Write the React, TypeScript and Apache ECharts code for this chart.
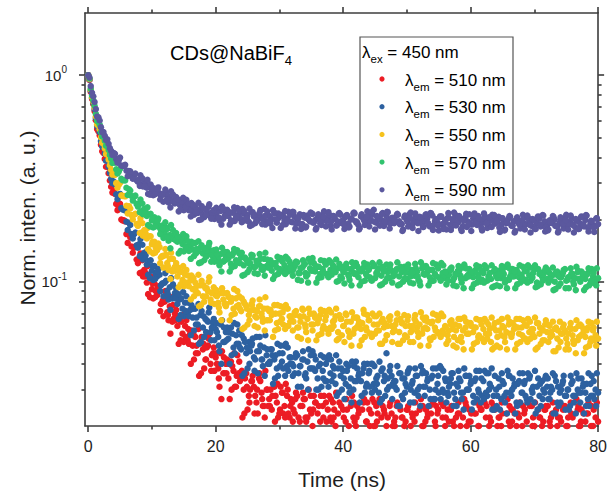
import React, { useEffect, useRef } from 'react';
import * as echarts from 'echarts';

// Decay traces, values in units of 1e-4 of normalized intensity.
// "A" channels at t = i*DT, "B" channels at t = (i + 0.5)*DT,
// "C" channels at t = (i + C_START + 0.25)*DT.
const DT = 0.4;
const UNIT = 1e-4;
const C_START = 20;

const em510A = [
  10000, 8300, 7250, 6050, 5350, 4600, 4200, 3600, 3350, 2880,
  2750, 2380, 2300, 2000, 1980, 1700, 1700, 1480, 1460, 1280,
  1270, 1110, 1140, 990, 1060, 920, 980, 860, 900, 790,
  800, 710, 760, 640, 700, 610, 650, 560, 610, 520,
  560, 490, 540, 450, 510, 470, 420, 490, 400, 450,
  430, 380, 450, 360, 400, 340, 410, 370, 310, 360,
  340, 300, 360, 280, 330, 310, 260, 340, 290, 250,
  300, 270, 240, 310, 260, 230, 290, 250, 280, 220,
  260, 230, 280, 210, 250, 270, 220, 240, 200, 260,
  230, 210, 250, 190, 240, 220, 260, 200, 230, 180,
  240, 210, 190, 250, 220, 200, 230, 180, 260, 210,
  190, 230, 200, 250, 180, 220, 240, 200, 170, 230,
  210, 250, 190, 220, 200, 240, 180, 230, 210, 190,
  240, 200, 170, 220, 250, 190, 210, 230, 180, 220,
  200, 240, 190, 210, 170, 230, 200, 220, 260, 190,
  210, 180, 230, 200, 240, 190, 220, 170, 210, 250,
  190, 220, 200, 180, 230, 210, 240, 190, 200, 220,
  180, 230, 210, 190, 250, 200, 170, 220, 200, 240,
  190, 210, 230, 180, 200, 220, 190, 250, 200, 180,
  220, 190, 240, 200, 170, 210, 230, 190, 200, 220,
  210,
];
const em510B = [
  9480, 7680, 6700, 5480, 5110, 4280, 3930, 3600, 3090, 2700,
  2660, 2220, 2380, 1980, 1960, 1540, 1640, 1380, 1480, 1230,
  1370, 1060, 1100, 870, 1060, 830, 900, 950, 780, 680,
  820, 650, 840, 660, 730, 500, 640, 510, 650, 500,
  580, 420, 490, 350, 540, 380, 480, 560, 440, 370,
  400, 310, 460, 360, 420, 270, 390, 310, 440, 330,
  220, 340, 240, 300, 350, 280, 230, 330, 250, 370,
  250, 300, 190, 280, 220, 310, 230, 320, 230, 270,
  240, 290, 220, 190, 270, 210, 300, 230, 280, 180,
  250, 190, 280, 210, 280, 210, 240, 170, 260, 190,
  170, 240, 190, 280, 210, 250, 160, 240, 180, 260,
  200, 270, 200, 230, 160, 250, 180, 220, 260, 200,
  220, 160, 240, 170, 210, 250, 200, 160, 230, 180,
  270, 200, 240, 160, 230, 180, 250, 190, 260, 190,
  170, 210, 250, 200, 160, 230, 180, 270, 200, 240,
  160, 230, 180, 250, 190, 260, 190, 220, 160, 240,
  200, 160, 230, 180, 270, 200, 240, 160, 230, 180,
  250, 190, 260, 190, 220, 160, 240, 170, 210, 250,
  190, 220, 160, 240, 170, 210, 250, 200, 160, 230,
  180, 270, 200, 240, 160, 230, 180, 250, 190, 260,
];
const em510C = [
  1100, 1270, 1060, 1190, 840, 980, 840, 930, 720, 810,
  900, 690, 560, 770, 650, 670, 520, 690, 540, 590,
  400, 560, 450, 590, 360, 500, 420, 530, 370, 480,
  450, 340, 270, 430, 360, 400, 300, 450, 350, 410,
  370, 230, 310, 260, 330, 230, 300, 360, 270, 220,
  300, 250, 280, 210, 320, 240, 290, 220, 300, 250,
  210, 270, 190, 250, 290, 220, 180, 280, 240, 260,
  190, 280, 220, 260, 190, 270, 220, 290, 180, 250,
  220, 270, 200, 160, 260, 220, 240, 180, 270, 210,
  240, 180, 260, 210, 270, 170, 230, 190, 250, 170,
  200, 260, 160, 220, 190, 240, 170, 220, 260, 190,
  160, 250, 210, 230, 170, 260, 200, 240, 180, 250,
  220, 190, 240, 170, 220, 260, 190, 160, 250, 210,
  230, 170, 260, 200, 240, 180, 250, 200, 260, 160,
  170, 220, 260, 190, 160, 250, 210, 230, 170, 260,
  200, 240, 180, 250, 200, 260, 160, 220, 190, 240,
  250, 200, 260, 160, 220, 190, 240, 170, 220, 260,
  190, 160, 250, 210, 230, 170, 260, 200, 240, 180,
];

const em530A = [
  10000, 8400, 7350, 6200, 5550, 4800, 4450, 3850, 3600, 3150,
  3050, 2650, 2600, 2270, 2230, 1950, 1930, 1700, 1700, 1500,
  1520, 1340, 1380, 1210, 1260, 1130, 1190, 1060, 1080, 980,
  990, 900, 940, 830, 880, 780, 820, 740, 790, 700,
  730, 670, 740, 620, 690, 600, 660, 640, 570, 630,
  590, 540, 620, 510, 570, 530, 600, 480, 550, 500,
  470, 530, 450, 510, 490, 430, 540, 460, 420, 480,
  440, 400, 470, 420, 380, 450, 410, 490, 390, 430,
  400, 360, 440, 390, 420, 350, 410, 380, 460, 370,
  340, 400, 370, 330, 420, 360, 390, 320, 380, 350,
  370, 320, 390, 340, 300, 410, 350, 330, 380, 310,
  360, 400, 320, 340, 290, 370, 330, 450, 310, 350,
  330, 300, 360, 280, 340, 310, 380, 320, 290, 350,
  310, 360, 280, 330, 300, 350, 270, 320, 390, 300,
  340, 290, 320, 360, 270, 310, 330, 290, 350, 300,
  320, 280, 340, 300, 260, 330, 290, 360, 310, 280,
  300, 340, 270, 320, 290, 350, 280, 310, 260, 330,
  290, 320, 270, 340, 300, 260, 310, 280, 330, 290,
  310, 270, 300, 350, 260, 290, 320, 280, 300, 250,
  330, 280, 300, 260, 310, 290, 270, 320, 280, 300,
  290,
];
const em530B = [
  9530, 7770, 6850, 5680, 5310, 4520, 4180, 3860, 3370, 3000,
  2960, 2510, 2660, 2240, 2210, 1780, 1880, 1620, 1730, 1460,
  1610, 1280, 1340, 1080, 1270, 1020, 1090, 1150, 960, 850,
  1010, 820, 1040, 840, 930, 660, 830, 680, 850, 680,
  770, 580, 670, 500, 720, 540, 650, 750, 600, 520,
  570, 460, 650, 510, 600, 400, 560, 450, 620, 480,
  350, 510, 380, 460, 530, 420, 360, 490, 390, 550,
  400, 470, 320, 440, 350, 490, 380, 500, 370, 430,
  390, 450, 360, 310, 420, 340, 470, 380, 440, 300,
  390, 310, 430, 330, 440, 330, 380, 280, 410, 300,
  270, 370, 290, 410, 330, 380, 260, 360, 290, 400,
  310, 400, 300, 350, 260, 380, 280, 340, 390, 320,
  330, 250, 360, 270, 320, 370, 300, 260, 350, 280,
  390, 310, 360, 250, 340, 270, 380, 290, 380, 290,
  260, 310, 360, 290, 250, 340, 270, 380, 300, 350,
  240, 330, 270, 370, 280, 370, 280, 320, 240, 350,
  280, 240, 330, 260, 370, 290, 340, 230, 320, 260,
  360, 280, 360, 270, 310, 230, 340, 250, 300, 350,
  270, 310, 230, 330, 250, 300, 350, 280, 240, 320,
  260, 360, 290, 340, 230, 320, 250, 350, 270, 360,
];
const em530C = [
  1330, 1510, 1290, 1420, 1040, 1190, 1030, 1120, 900, 980,
  1100, 870, 730, 970, 830, 870, 690, 890, 720, 790,
  550, 740, 620, 780, 510, 680, 570, 710, 520, 660,
  630, 490, 400, 600, 520, 570, 440, 630, 500, 580,
  550, 360, 480, 400, 500, 370, 460, 540, 420, 350,
  470, 410, 440, 340, 500, 390, 450, 350, 480, 400,
  350, 430, 310, 390, 460, 360, 300, 440, 380, 420,
  300, 440, 340, 400, 310, 420, 350, 440, 290, 380,
  340, 400, 310, 260, 390, 330, 360, 280, 400, 320,
  370, 290, 390, 320, 410, 270, 350, 300, 370, 270,
  310, 390, 250, 340, 290, 360, 260, 330, 380, 300,
  250, 370, 310, 340, 270, 380, 300, 350, 270, 370,
  330, 280, 340, 250, 320, 370, 290, 240, 350, 300,
  330, 260, 370, 290, 340, 270, 360, 300, 380, 240,
  250, 310, 360, 280, 230, 350, 300, 320, 250, 360,
  290, 330, 260, 350, 290, 370, 240, 320, 270, 340,
  340, 290, 360, 230, 310, 260, 330, 240, 300, 350,
  280, 230, 340, 290, 320, 250, 360, 280, 330, 250,
];

const em550A = [
  10000, 8500, 7450, 6300, 5700, 5000, 4650, 4150, 3900, 3480,
  3350, 3000, 2950, 2620, 2600, 2330, 2320, 2100, 2110, 1900,
  1920, 1730, 1780, 1620, 1660, 1520, 1560, 1420, 1470, 1330,
  1340, 1230, 1290, 1120, 1180, 1060, 1110, 1020, 1080, 960,
  1010, 920, 990, 880, 960, 850, 930, 900, 820, 890,
  860, 790, 880, 820, 760, 850, 800, 740, 830, 770,
  720, 800, 760, 690, 780, 730, 670, 760, 700, 740,
  650, 720, 690, 770, 630, 700, 660, 740, 610, 680,
  650, 710, 600, 680, 740, 620, 660, 700, 580, 670,
  630, 690, 590, 650, 720, 600, 640, 680, 570, 660,
  610, 700, 580, 640, 560, 670, 620, 590, 730, 600,
  650, 560, 620, 680, 580, 640, 600, 550, 670, 610,
  590, 650, 570, 630, 690, 540, 610, 580, 660, 600,
  620, 560, 650, 590, 530, 640, 600, 570, 680, 580,
  610, 550, 640, 590, 620, 520, 660, 580, 600, 560,
  630, 570, 600, 540, 650, 590, 560, 620, 510, 600,
  580, 640, 550, 600, 570, 620, 540, 590, 660, 560,
  600, 530, 610, 570, 590, 540, 630, 560, 590, 520,
  570, 610, 550, 590, 530, 640, 560, 580, 500, 600,
  550, 590, 520, 620, 560, 540, 600, 510, 580, 550,
  530,
];
const em550B = [
  9580, 7820, 6960, 5770, 5470, 4710, 4410, 4120, 3660, 3300,
  3290, 2850, 3010, 2600, 2590, 2140, 2260, 2000, 2130, 1860,
  2030, 1670, 1720, 1440, 1660, 1370, 1460, 1530, 1310, 1170,
  1350, 1140, 1380, 1150, 1230, 940, 1120, 950, 1140, 950,
  1070, 850, 950, 760, 1010, 800, 930, 1050, 880, 780,
  850, 710, 930, 780, 880, 650, 830, 700, 900, 740,
  590, 780, 620, 720, 810, 680, 600, 760, 640, 840,
  650, 730, 540, 700, 590, 760, 620, 770, 610, 680,
  640, 720, 600, 530, 680, 570, 740, 620, 700, 520,
  660, 560, 720, 590, 730, 590, 650, 520, 690, 550,
  510, 640, 540, 710, 590, 670, 490, 630, 540, 690,
  560, 700, 560, 620, 500, 660, 520, 610, 680, 570,
  620, 500, 660, 520, 610, 680, 570, 510, 640, 540,
  710, 590, 670, 490, 630, 540, 690, 560, 700, 560,
  500, 580, 650, 540, 480, 610, 510, 670, 560, 630,
  470, 600, 510, 650, 530, 660, 530, 590, 470, 630,
  540, 480, 610, 510, 670, 560, 630, 470, 600, 510,
  650, 530, 660, 530, 590, 470, 630, 500, 580, 650,
  510, 570, 460, 600, 480, 560, 620, 530, 470, 590,
  500, 650, 540, 610, 450, 580, 490, 630, 520, 640,
];
const em550C = [
  1720, 1920, 1670, 1820, 1400, 1560, 1380, 1490, 1230, 1330,
  1440, 1190, 1030, 1290, 1130, 1170, 970, 1190, 990, 1070,
  820, 1040, 900, 1080, 770, 960, 850, 1000, 790, 940,
  910, 750, 650, 880, 780, 840, 690, 920, 760, 850,
  830, 600, 740, 650, 770, 610, 720, 820, 670, 580,
  740, 650, 700, 580, 770, 640, 710, 590, 740, 640,
  580, 690, 540, 640, 730, 600, 520, 700, 620, 670,
  550, 730, 610, 680, 560, 710, 610, 740, 530, 660,
  610, 690, 570, 490, 670, 600, 640, 520, 700, 580,
  650, 540, 680, 580, 700, 500, 630, 550, 650, 510,
  580, 700, 500, 630, 550, 650, 510, 610, 690, 570,
  490, 670, 600, 640, 520, 700, 580, 650, 540, 680,
  600, 520, 620, 490, 580, 660, 540, 470, 640, 560,
  610, 500, 660, 550, 620, 510, 640, 560, 670, 480,
  490, 580, 660, 540, 470, 640, 560, 610, 500, 660,
  550, 620, 510, 640, 560, 670, 480, 600, 520, 620,
  620, 540, 640, 460, 580, 510, 600, 470, 560, 630,
  520, 450, 610, 550, 590, 480, 640, 530, 600, 490,
];

const em570A = [
  10000, 8600, 7550, 6500, 5950, 5300, 5050, 4550, 4350, 3950,
  3820, 3500, 3420, 3150, 3100, 2850, 2800, 2600, 2580, 2380,
  2380, 2200, 2250, 2080, 2120, 1980, 2050, 1900, 1830, 1870,
  1720, 1800, 1680, 1620, 1700, 1560, 1630, 1520, 1580, 1480,
  1500, 1430, 1540, 1400, 1460, 1370, 1450, 1350, 1410, 1320,
  1380, 1290, 1360, 1250, 1330, 1300, 1220, 1380, 1270, 1240,
  1310, 1200, 1280, 1230, 1350, 1180, 1260, 1210, 1150, 1290,
  1190, 1240, 1130, 1210, 1170, 1280, 1120, 1200, 1160, 1250,
  1130, 1190, 1240, 1100, 1170, 1220, 1080, 1160, 1300, 1120,
  1180, 1090, 1150, 1230, 1070, 1140, 1200, 1110, 1160, 1060,
  1130, 1190, 1080, 1150, 1110, 1230, 1050, 1120, 1170, 1090,
  1140, 1020, 1190, 1100, 1160, 1070, 1120, 1210, 1040, 1130,
  1090, 1150, 1060, 1110, 1180, 1030, 1100, 1140, 1070, 1120,
  1000, 1160, 1080, 1110, 1050, 1140, 1090, 1190, 1040, 1100,
  1120, 1060, 1150, 1010, 1090, 1130, 1070, 1170, 1040, 1080,
  1110, 1050, 1140, 1080, 1000, 1100, 1160, 1060, 1030, 1120,
  1070, 1130, 1040, 1090, 1180, 1020, 1100, 1060, 1140, 1050,
  1080, 1010, 1120, 1070, 1040, 1150, 990, 1090, 1060, 1110,
  1030, 1100, 1070, 1000, 1120, 1050, 1080, 1150, 1020, 1060,
  1090, 1040, 1110, 1000, 1070, 1030, 1100, 980, 1060, 1020,
  1040,
];
const em570B = [
  9630, 7970, 7110, 6010, 5770, 5050, 4810, 4580, 4110, 3760,
  3770, 3340, 3520, 3100, 3090, 2630, 2760, 2470, 2610, 2310,
  2500, 2120, 2180, 1880, 2130, 1830, 1940, 2020, 1780, 1630,
  1830, 1580, 1880, 1610, 1720, 1370, 1610, 1400, 1660, 1410,
  1560, 1330, 1440, 1230, 1500, 1270, 1410, 1540, 1350, 1250,
  1360, 1200, 1460, 1270, 1390, 1120, 1340, 1190, 1420, 1230,
  1070, 1310, 1110, 1230, 1340, 1180, 1090, 1290, 1140, 1380,
  1170, 1270, 1030, 1230, 1090, 1300, 1130, 1320, 1120, 1210,
  1150, 1250, 1100, 1010, 1200, 1060, 1290, 1130, 1230, 990,
  1180, 1050, 1260, 1090, 1270, 1080, 1170, 1000, 1220, 1040,
  980, 1160, 1020, 1240, 1090, 1190, 960, 1140, 1010, 1210,
  1050, 1230, 1040, 1130, 960, 1180, 1000, 1110, 1210, 1060,
  1130, 960, 1180, 1000, 1110, 1210, 1060, 980, 1160, 1020,
  1240, 1090, 1190, 960, 1140, 1010, 1210, 1050, 1230, 1040,
  970, 1080, 1170, 1040, 950, 1130, 990, 1210, 1060, 1150,
  930, 1110, 990, 1180, 1020, 1200, 1010, 1100, 940, 1150,
  1040, 950, 1130, 990, 1210, 1060, 1150, 930, 1110, 990,
  1180, 1020, 1200, 1010, 1100, 940, 1150, 970, 1080, 1170,
  990, 1070, 910, 1110, 950, 1050, 1140, 1010, 930, 1090,
  970, 1180, 1030, 1120, 910, 1080, 960, 1150, 990, 1160,
];
const em570C = [
  2170, 2390, 2130, 2290, 1850, 2030, 1850, 1980, 1700, 1810,
  1940, 1640, 1450, 1780, 1590, 1650, 1410, 1700, 1470, 1570,
  1290, 1530, 1370, 1570, 1240, 1450, 1320, 1490, 1250, 1420,
  1430, 1240, 1120, 1400, 1280, 1350, 1170, 1440, 1260, 1370,
  1380, 1080, 1270, 1150, 1310, 1100, 1240, 1360, 1180, 1070,
  1280, 1170, 1230, 1070, 1320, 1150, 1250, 1090, 1290, 1160,
  1070, 1210, 1020, 1160, 1270, 1100, 990, 1240, 1130, 1190,
  1040, 1270, 1110, 1210, 1050, 1240, 1120, 1280, 1010, 1180,
  1110, 1220, 1060, 960, 1190, 1090, 1150, 1000, 1230, 1070,
  1160, 1010, 1200, 1080, 1240, 970, 1140, 1040, 1170, 990,
  1080, 1240, 970, 1140, 1040, 1170, 990, 1110, 1220, 1060,
  960, 1190, 1090, 1150, 1000, 1230, 1070, 1160, 1010, 1200,
  1110, 1010, 1140, 960, 1080, 1190, 1030, 930, 1160, 1060,
  1120, 970, 1200, 1040, 1130, 990, 1170, 1050, 1200, 950,
  960, 1080, 1190, 1030, 930, 1160, 1060, 1120, 970, 1200,
  1040, 1130, 990, 1170, 1050, 1200, 950, 1110, 1010, 1140,
  1140, 1020, 1170, 920, 1070, 980, 1110, 930, 1050, 1160,
  1000, 910, 1130, 1030, 1090, 940, 1160, 1010, 1100, 960,
];

const em590A = [
  10000, 8850, 7900, 6850, 6250, 5600, 5300, 4850, 4650, 4300,
  4200, 3920, 3880, 3650, 3640, 3450, 3430, 3250, 3280, 3100,
  3120, 2950, 3010, 2850, 2900, 2760, 2820, 2700, 2680, 2640,
  2650, 2520, 2580, 2460, 2390, 2480, 2350, 2300, 2380, 2250,
  2290, 2180, 2300, 2150, 2220, 2100, 2240, 2130, 2080, 2190,
  2120, 2050, 2200, 2020, 2150, 2080, 1980, 2170, 2060, 2110,
  2000, 2140, 2040, 1950, 2180, 2070, 1990, 2100, 2030, 2250,
  1960, 2080, 2010, 2140, 1930, 2050, 2110, 1970, 2020, 2160,
  1940, 2060, 2000, 2120, 1900, 2040, 2090, 1960, 2130, 1990,
  2050, 1920, 2100, 1980, 2030, 1870, 2080, 2000, 1950, 2110,
  1990, 2060, 1910, 2020, 2140, 1960, 1880, 2070, 2010, 1940,
  2090, 1980, 2230, 1930, 2040, 1990, 1860, 2080, 1970, 2020,
  1920, 2100, 1960, 1900, 2050, 1990, 2120, 1870, 2000, 1950,
  2060, 1910, 1980, 2030, 1850, 2090, 1960, 1940, 2070, 1900,
  1990, 2040, 1880, 1970, 2110, 1930, 2000, 1860, 2050, 1950,
  1900, 2020, 1960, 2080, 1890, 1970, 1930, 2040, 1850, 1990,
  1940, 2060, 1880, 1980, 1920, 2030, 1870, 1960, 2010, 1900,
  1950, 1890, 2040, 1930, 1860, 1990, 1910, 2020, 1880, 1960,
  1870, 1980, 1920, 2000, 1850, 1940, 1900, 2030, 1860, 1950,
  1890, 1840, 1970, 1910, 1870, 1990, 1830, 1920, 1880, 1850,
  1900,
];
const em590B = [
  9740, 8220, 7410, 6300, 6030, 5300, 5090, 4890, 4430, 4110,
  4160, 3770, 3990, 3630, 3680, 3240, 3420, 3150, 3340, 3050,
  3270, 2890, 2980, 2660, 2950, 2620, 2750, 2860, 2610, 2440,
  2670, 2420, 2740, 2460, 2570, 2190, 2440, 2220, 2490, 2220,
  2400, 2110, 2240, 1990, 2320, 2050, 2210, 2370, 2150, 2010,
  2180, 1980, 2310, 2080, 2230, 1890, 2160, 1970, 2270, 2030,
  2250, 1980, 2100, 1860, 2170, 1920, 2070, 2220, 2010, 1890,
  2100, 1910, 2220, 2000, 2140, 1820, 2080, 1900, 2180, 1950,
  2170, 1910, 2030, 1800, 2100, 1850, 2000, 2140, 1940, 1820,
  2070, 1880, 2190, 1970, 2110, 1790, 2050, 1870, 2150, 1920,
  1800, 2100, 1850, 2000, 2140, 1940, 1820, 2070, 1880, 2190,
  1970, 2110, 1790, 2050, 1870, 2150, 1920, 2170, 1910, 2030,
  1970, 2110, 1910, 1790, 2040, 1850, 2160, 1940, 2080, 1760,
  2020, 1840, 2120, 1890, 2140, 1880, 2000, 1770, 2070, 1820,
  1790, 2040, 1850, 2160, 1940, 2080, 1760, 2020, 1840, 2120,
  1890, 2140, 1880, 2000, 1770, 2070, 1820, 1970, 2110, 1910,
  1960, 1740, 2030, 1790, 1930, 2060, 1870, 1760, 2000, 1810,
  2110, 1900, 2040, 1730, 1980, 1800, 2070, 1850, 2090, 1840,
  1790, 1930, 2060, 1870, 1760, 2000, 1810, 2110, 1900, 2040,
  1730, 1980, 1800, 2070, 1850, 2090, 1840, 1960, 1740, 2030,
];
const em590C = [
  2910, 3170, 2900, 3110, 2640, 2850, 2650, 2820, 2500, 2650,
  2790, 2490, 2290, 2640, 2440, 2500, 2240, 2550, 2290, 2390,
  2070, 2350, 2170, 2410, 2000, 2260, 2100, 2310, 2020, 2220,
  2280, 2040, 1890, 2240, 2090, 2170, 1950, 2290, 2060, 2200,
  1940, 2200, 2030, 2260, 1880, 2110, 1970, 2160, 1900, 2080,
  2190, 1960, 1820, 2150, 2010, 2090, 1880, 2200, 1980, 2110,
  2180, 1810, 2040, 1900, 2090, 1830, 2010, 2160, 1930, 1790,
  2120, 1980, 2060, 1850, 2170, 1950, 2080, 1870, 2130, 1960,
  1900, 2090, 1830, 2010, 2160, 1930, 1790, 2120, 1980, 2060,
  1850, 2170, 1950, 2080, 1870, 2130, 1960, 2180, 1810, 2040,
  1980, 2130, 1900, 1760, 2090, 1950, 2030, 1820, 2140, 1920,
  2050, 1840, 2100, 1930, 2150, 1780, 2010, 1870, 2060, 1800,
  1930, 2150, 1780, 2010, 1870, 2060, 1800, 1980, 2130, 1900,
  1760, 2090, 1950, 2030, 1820, 2140, 1920, 2050, 1840, 2100,
  1970, 1830, 2020, 1770, 1940, 2080, 1860, 1730, 2050, 1910,
  1990, 1790, 2090, 1880, 2010, 1800, 2050, 1890, 2100, 1750,
  1770, 1940, 2080, 1860, 1730, 2050, 1910, 1990, 1790, 2090,
  1880, 2010, 1800, 2050, 1890, 2100, 1750, 1970, 1830, 2020,
];

const emissionLabels = ['510', '530', '550', '570', '590'];
const emissionA = [em510A, em530A, em550A, em570A, em590A];
const emissionB = [em510B, em530B, em550B, em570B, em590B];
const emissionC = [em510C, em530C, em550C, em570C, em590C];
const colors = ['#ec1c24', '#2d61a0', '#f6c21c', '#31c36e', '#5b589e'];
const excitationLabel = '450';
const sampleLabel = 'CDs@NaBiF';
const sampleSub = '4';

const xMajorTicks = [0, 20, 40, 60, 80];
const xMinorTicks = [10, 30, 50, 70];
const yMajorTicks = [0.1, 1];
const yMinorTicks = [0.03, 0.04, 0.05, 0.06, 0.07, 0.08, 0.09, 0.2, 0.3, 0.4, 0.5, 0.6, 0.7, 0.8, 0.9];

const FONT = '"Liberation Sans", Arial, sans-serif';
const AXIS_COLOR = '#3c3c3c';
const TEXT_COLOR = '#1e1e1e';

export default function App() {
  const ref = useRef<HTMLDivElement>(null);

  useEffect(() => {
    if (!ref.current) return;
    const chart = echarts.init(ref.current, undefined, { renderer: 'svg' });

    const lineStyle = { color: AXIS_COLOR, width: 1.6 };
    const xBase = { type: 'value', min: -0.5, max: 80, splitLine: { show: false }, gridIndex: 0 };
    const yBase = { type: 'log', logBase: 10, min: 0.02, max: 2, splitLine: { show: false }, gridIndex: 0 };

    const xAxis = [
      {
        ...xBase, position: 'bottom',
        axisLine: { show: true, onZero: false, lineStyle },
        axisTick: { show: true, customValues: xMajorTicks, length: 6, inside: false, lineStyle },
        axisLabel: { show: true, customValues: xMajorTicks, margin: 12, fontSize: 16, fontFamily: FONT, color: TEXT_COLOR },
      },
      {
        ...xBase, position: 'top',
        axisLine: { show: true, onZero: false, lineStyle },
        axisTick: { show: true, customValues: xMajorTicks, length: 6, lineStyle },
        axisLabel: { show: false },
      },
      {
        ...xBase, position: 'bottom',
        axisLine: { show: false, onZero: false },
        axisTick: { show: true, customValues: xMinorTicks, length: 3.5, lineStyle },
        axisLabel: { show: false },
      },
      {
        ...xBase, position: 'top',
        axisLine: { show: false, onZero: false },
        axisTick: { show: true, customValues: xMinorTicks, length: 3.5, lineStyle },
        axisLabel: { show: false },
      },
    ];

    const yAxis = [
      {
        ...yBase, position: 'left',
        axisLine: { show: true, onZero: false, lineStyle },
        axisTick: { show: true, customValues: yMajorTicks, length: 6, lineStyle },
        axisLabel: {
          show: true, customValues: yMajorTicks, margin: 18, fontFamily: FONT, color: TEXT_COLOR,
          formatter: (v: number) => `{b|10}{p|${Math.round(Math.log10(v))}}`,
          rich: {
            b: { fontSize: 15, fontFamily: FONT, color: TEXT_COLOR },
            p: { fontSize: 10, fontFamily: FONT, color: TEXT_COLOR, padding: [0, 0, 11, 0] },
          },
        },
      },
      {
        ...yBase, position: 'right',
        axisLine: { show: true, onZero: false, lineStyle },
        axisTick: { show: true, customValues: yMajorTicks, length: 6, lineStyle },
        axisLabel: { show: false },
      },
      {
        ...yBase, position: 'left',
        axisLine: { show: false, onZero: false },
        axisTick: { show: true, customValues: yMinorTicks, length: 3.5, lineStyle },
        axisLabel: { show: false },
      },
      {
        ...yBase, position: 'right',
        axisLine: { show: false, onZero: false },
        axisTick: { show: true, customValues: yMinorTicks, length: 3.5, lineStyle },
        axisLabel: { show: false },
      },
    ];

    const series = emissionLabels.map((lab, k) => ({
      type: 'scatter',
      name: lab,
      xAxisIndex: 0,
      yAxisIndex: 0,
      symbol: 'circle',
      symbolSize: 6.5,
      clip: true,
      itemStyle: { color: colors[k], opacity: 1 },
      data: [
        ...emissionA[k].map((v, i) => [i * DT, v * UNIT]),
        ...emissionB[k].map((v, i) => [(i + 0.5) * DT, v * UNIT]),
        ...emissionC[k].map((v, j) => [(j + C_START + 0.25) * DT, v * UNIT]),
      ],
      z: 2 + k,
    }));

    const legendLeft = 360;
    const legendTop = 37;
    const rowGap = 27.7;
    const richSub = (size: number) => ({
      l: { fontSize: size, fontFamily: FONT, color: TEXT_COLOR },
      s: { fontSize: 11.5, fontFamily: FONT, color: TEXT_COLOR, padding: [13, 0, 0, 0] },
      m: { fontSize: size, fontFamily: FONT, color: TEXT_COLOR },
    });

    const legendItems: any[] = [
      {
        type: 'rect',
        shape: { x: legendLeft, y: legendTop, width: 153, height: 167 },
        style: { fill: '#ffffff', stroke: '#555555', lineWidth: 1.2 },
        z: 10,
      },
      {
        type: 'text', x: legendLeft + 2, y: legendTop + 15, z: 11,
        style: {
          text: `{l|λ}{s|ex}{m| = ${excitationLabel} nm}`,
          rich: richSub(17), verticalAlign: 'middle', align: 'left',
        },
      },
    ];
    emissionLabels.forEach((lab, k) => {
      const cy = legendTop + 42 + k * rowGap;
      legendItems.push({
        type: 'circle', shape: { cx: legendLeft + 22, cy, r: 2.6 },
        style: { fill: colors[k] }, z: 11,
      });
      legendItems.push({
        type: 'text', x: legendLeft + 45, y: cy + 1, z: 11,
        style: {
          text: `{l|λ}{s|em}{m| = ${lab} nm}`,
          rich: richSub(17), verticalAlign: 'middle', align: 'left',
        },
      });
    });

    const option: any = {
      animation: false,
      backgroundColor: '#ffffff',
      grid: { left: 85, right: 11, top: 13, bottom: 67, containLabel: false },
      xAxis,
      yAxis,
      series,
      graphic: [
        {
          type: 'text', x: 170, y: 53, z: 11,
          style: {
            text: `{m|${sampleLabel}}{s|${sampleSub}}`,
            rich: {
              m: { fontSize: 20, fontFamily: FONT, color: TEXT_COLOR },
              s: { fontSize: 13, fontFamily: FONT, color: TEXT_COLOR, padding: [14, 0, 0, 0] },
            },
            verticalAlign: 'middle', align: 'left',
          },
        },
        {
          type: 'text', x: 342, y: 479, z: 11,
          style: {
            text: 'Time (ns)', fontSize: 21, fontFamily: FONT, fill: TEXT_COLOR,
            align: 'center', verticalAlign: 'middle',
          },
        },
        {
          type: 'text', x: 27, y: 218, rotation: Math.PI / 2, z: 11,
          style: {
            text: 'Norm. inten. (a. u.)', fontSize: 21, fontFamily: FONT, fill: TEXT_COLOR,
            align: 'center', verticalAlign: 'middle',
          },
        },
        ...legendItems,
      ],
    };

    chart.setOption(option);
    return () => chart.dispose();
  }, []);

  return (
    <div
      ref={ref}
      style={{ position: 'fixed', left: 0, top: 0, width: 610, height: 493, background: '#ffffff' }}
    />
  );
}
